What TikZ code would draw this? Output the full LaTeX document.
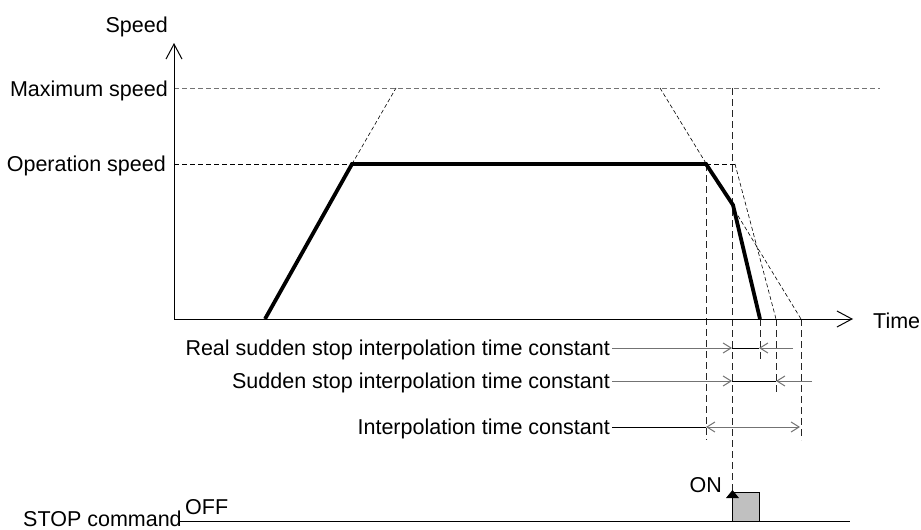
\documentclass[tikz,border=0pt]{standalone}
\usepackage{fontspec}
\setmainfont{Liberation Sans}
\usetikzlibrary{arrows.meta}
\definecolor{dimgray}{RGB}{115,115,115}
\definecolor{pulsefill}{RGB}{192,192,192}
\begin{document}
\begin{tikzpicture}[x=1pt,y=-1pt,
  lbl/.style={font=\fontsize{21.5}{25}\selectfont, inner sep=0pt},
  axisline/.style={line width=1pt, -{Straight Barb[length=15pt,width=16pt,line width=1pt]}},
  speedline/.style={line width=3.8pt, line join=miter},
  maxdash/.style={dimgray, line width=1pt, dash pattern=on 5pt off 3pt},
  opdash/.style={black, line width=0.9pt, dash pattern=on 5pt off 3pt},
  slopedash/.style={black, line width=0.6pt, dash pattern=on 4pt off 2.5pt},
  vdash/.style={black!85, line width=1pt, dash pattern=on 7pt off 4pt},
  dimline/.style={dimgray, line width=1pt},
  dimtip/.style={-{Straight Barb[length=8pt,width=10pt,line width=1pt]}},
  dimboth/.style={{Straight Barb[length=8pt,width=10pt,line width=1pt]}-{Straight Barb[length=8pt,width=10pt,line width=1pt]}},
  midseg/.style={black, line width=0.8pt}
]
\useasboundingbox (0,0) rectangle (921,530);

% key points
\coordinate (O) at (174,319);
\coordinate (ytip) at (174,43);
\coordinate (xtip) at (853,319);
\coordinate (maxL) at (174,88);
\coordinate (maxR) at (880,88);
\coordinate (opL) at (174,164);
\coordinate (rampS) at (265,319);
\coordinate (opA) at (352,164);
\coordinate (maxA) at (396,88);
\coordinate (opB) at (706,164);
\coordinate (kink) at (733,205);
\coordinate (stopE) at (760,319);
\coordinate (maxB) at (660,88);
\coordinate (intE) at (801,319);
\coordinate (stopT) at (732,88);
\coordinate (sudS) at (735,164);
\coordinate (sudE) at (776,319);

% labels
\node[lbl, anchor=base east] (lspeed) at (168,32) {Speed};
\node[lbl, anchor=base east] (lmax) at (168,96) {Maximum speed};
\node[lbl, anchor=base east] (lop) at (166,171.5) {Operation speed};
\node[lbl, anchor=base west] (ltime) at (873,328) {Time};
\node[lbl, anchor=base east] (lreal) at (610,355.5) {Real sudden stop interpolation time constant};
\node[lbl, anchor=base east] (lsud) at (610,388.5) {Sudden stop interpolation time constant};
\node[lbl, anchor=base east] (lint) at (610,434.5) {Interpolation time constant};
\node[lbl, anchor=base east] (lon) at (722,492) {ON};
\node[lbl, anchor=base west] (loff) at (185,514) {OFF};
\node[lbl, anchor=base west] (lstop) at (23,526) {STOP command};

% reference dashed lines
\draw[maxdash] (maxL) -- (maxR);
\draw[opdash] (opL) -- (opA);
\draw[slopedash] (opA) -- (maxA);
\draw[slopedash] (maxB) -- (intE);
\draw[opdash] (opB) -- (sudS);
\draw[slopedash] (sudS) -- (sudE);

% vertical dashed lines
\coordinate (v1b) at (706,440);
\coordinate (v3b) at (760,360);
\coordinate (v4b) at (776,395);
\coordinate (v5b) at (801,440);
\coordinate (trig) at (732,497);
\draw[vdash] (opB) -- (v1b);
\draw[vdash] (stopT) -- (trig);
\draw[vdash] (stopE) -- (v3b);
\draw[vdash] (sudE) -- (v4b);
\draw[vdash] (intE) -- (v5b);

% axes
\draw[axisline] (O) -- (ytip);
\draw[axisline] (O) -- (xtip);

% speed profile
\draw[speedline] (rampS) -- (opA) -- (opB) -- (kink) -- (stopE);

% dimension row 1
\coordinate (r1a) at (732,348);
\coordinate (r1b) at (759,348);
\coordinate (r1c) at (793,348);
\draw[dimline, dimtip] ([xshift=2pt]lreal.east |- r1a) -- (r1a);
\draw[midseg] (r1a) -- (r1b);
\draw[dimline, dimtip] (r1c) -- (r1b);

% dimension row 2
\coordinate (r2a) at (732,381);
\coordinate (r2b) at (776,381);
\coordinate (r2c) at (812,381);
\draw[dimline, dimtip] ([xshift=2pt]lsud.east |- r2a) -- (r2a);
\draw[midseg] (r2a) -- (r2b);
\draw[dimline, dimtip] (r2c) -- (r2b);

% dimension row 3
\coordinate (r3a) at (706,427);
\coordinate (r3b) at (800,427);
\draw[midseg] ([xshift=2pt]lint.east |- r3a) -- (r3a);
\draw[dimline, dimboth] (r3a) -- (r3b);

% STOP command signal
\coordinate (sigL) at (180,521);
\coordinate (sigR) at (850,521);
\coordinate (pulseBL) at (732,521);
\coordinate (pulseTR) at (759,492);
\draw[line width=1pt, fill=pulsefill] (pulseBL) rectangle (pulseTR);
\draw[line width=1pt] (sigL) -- (sigR);
\fill[black] (726,498) -- (739,498) -- (732.5,490) -- cycle;
\end{tikzpicture}
\end{document}
